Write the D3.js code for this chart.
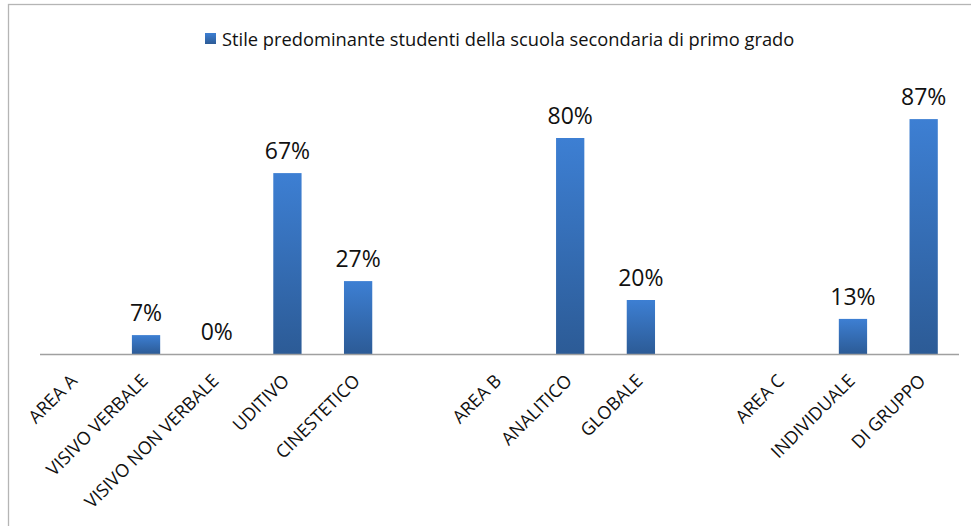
<!DOCTYPE html>
<html>
<head>
<meta charset="utf-8">
<script src="https://cdn.jsdelivr.net/npm/d3@7"></script>
<style>
  html, body { margin: 0; padding: 0; background: #fff; }
  svg { display: block; font-family: "Open Sans", "Noto Sans", sans-serif; }
</style>
</head>
<body>
<svg id="chart" width="971" height="526"></svg>
<script>
// ---- data ----
const categories = ["AREA A", "VISIVO VERBALE", "VISIVO NON VERBALE", "UDITIVO", "CINESTETICO", "",
                    "AREA B", "ANALITICO", "GLOBALE", "", "AREA C", "INDIVIDUALE", "DI GRUPPO"];
const values = [null, 7, 0, 67, 27, null, null, 80, 20, null, null, 13, 87];
const valueLabels = ["", "7%", "0%", "67%", "27%", "", "", "80%", "20%", "", "", "13%", "87%"];
const seriesName = "Stile predominante studenti della scuola secondaria di primo grado";

const svg = d3.select("#chart");

// frame
svg.append("rect").attr("x", 8.5).attr("y", 4.5).attr("width", 980).attr("height", 540)
  .attr("fill", "none").attr("stroke", "#b5b5b5").attr("stroke-width", 1.3);

// gradient
const defs = svg.append("defs");
const grad = defs.append("linearGradient").attr("id", "barGrad")
  .attr("x1", 0).attr("y1", 0).attr("x2", 0).attr("y2", 1);
grad.append("stop").attr("offset", "0%").attr("stop-color", "#3d7fd3");
grad.append("stop").attr("offset", "100%").attr("stop-color", "#2c5b96");

const idx = categories.map((c, i) => i);
const x = d3.scaleBand().domain(idx).range([40, 959]).paddingInner(0.6).paddingOuter(0.3);
const y = d3.scaleLinear().domain([0, 100]).range([354, 84]);

// bars
svg.append("g").selectAll("rect").data(idx.filter(i => values[i] !== null && values[i] > 0))
  .join("rect")
  .attr("x", i => x(i))
  .attr("y", i => y(values[i]))
  .attr("width", x.bandwidth())
  .attr("height", i => y(0) - y(values[i]))
  .attr("fill", "url(#barGrad)");

// value labels
svg.append("g").selectAll("text").data(idx.filter(i => values[i] !== null))
  .join("text")
  .attr("x", i => x(i) + x.bandwidth() / 2)
  .attr("y", i => y(values[i]) - 14)
  .attr("text-anchor", "middle")
  .attr("font-size", 23)
  .attr("fill", "#111")
  .text(i => valueLabels[i]);

// axis line
svg.append("line").attr("x1", 40).attr("x2", 959).attr("y1", 354.5).attr("y2", 354.5)
  .attr("stroke", "#a0a0a0").attr("stroke-width", 1.3);

// category labels
svg.append("g").selectAll("text").data(idx.filter(i => categories[i] !== ""))
  .join("text")
  .attr("transform", i => `translate(${x(i) + x.bandwidth() / 2 + 3},${382}) rotate(-45)`)
  .attr("text-anchor", "end")
  .attr("font-size", 18)
  .attr("fill", "#111")
  .text(i => categories[i]);

// legend
const lg = svg.append("g");
lg.append("rect").attr("x", 205).attr("y", 33).attr("width", 11).attr("height", 11).attr("fill", "url(#barGrad)");
const lt = lg.append("text").attr("x", 222).attr("y", 46).attr("font-size", 16).attr("fill", "#111").text(seriesName);
const w = lt.node().getComputedTextLength();
lt.attr("font-size", 16 * 573 / w);
</script>
</body>
</html>
